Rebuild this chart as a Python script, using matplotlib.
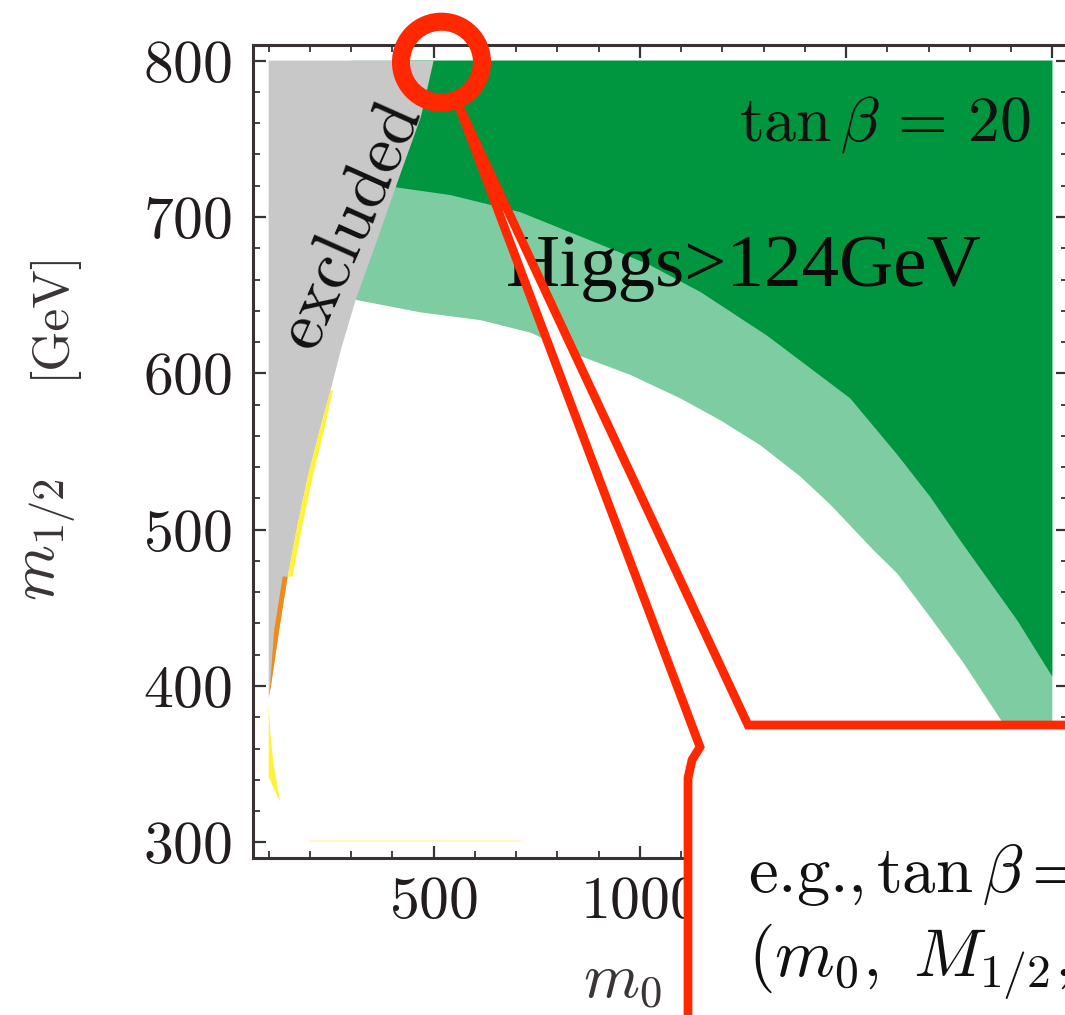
import numpy as np
import matplotlib.pyplot as plt
from matplotlib.patches import Polygon, Circle
from matplotlib.ticker import MultipleLocator

plt.rcParams['font.family'] = 'cmr10'
plt.rcParams['mathtext.fontset'] = 'cm'
plt.rcParams['axes.formatter.use_mathtext'] = True

# edge of the excluded (grey) region, m0 vs m1/2 in GeV
excl_m0 = [100, 100, 500, 469, 420, 408, 360, 311, 275, 250, 222, 195, 170, 146, 125, 105, 100]
excl_m12 = [392, 800, 800, 764, 728, 719, 683, 647, 615, 589, 562, 534, 503, 470, 435, 399, 392]

# upper edge of the light band (dark green above it)
dark_m0 = [408, 541, 711, 936, 1026, 1147, 1309, 1510, 1624, 1704, 1777, 1915, 2000]
dark_m12 = [719, 714, 703, 679, 669, 652, 624, 584, 548, 521, 493, 442, 406]

# lower edge of the light band
light_m0 = [311, 468, 614, 735, 856, 977, 1098, 1195, 1292, 1389, 1462, 1566, 1624,
            1704, 1784, 1881, 2000]
light_m12 = [647, 639, 634, 626, 611, 599, 584, 570, 554, 534, 516, 487, 472,
             444, 415, 376, 322]

# thin strips along the excluded edge
yellow_m0 = [250, 222, 195, 170, 146, 158, 182, 207, 233, 256]
yellow_m12 = [589, 562, 534, 503, 470, 470, 503, 534, 562, 589]
orange_m0 = [146, 125, 105, 100, 103, 113, 134, 158]
orange_m12 = [470, 435, 399, 394, 399, 435, 470, 470]
tail_m0 = [100, 104, 112, 128, 120, 100]
tail_m12 = [388, 370, 350, 326, 330, 342]
faint_m0 = [200, 710]
faint_m12 = [301, 301]

green_dark = '#00963f'
green_light = '#7ecca2'
grey = '#c8c8c8'
frame_col = '#3a3232'
red = '#ff2800'

fig = plt.figure(figsize=(10.65, 10.15), dpi=100)
W, H = 1065, 1015
ax = fig.add_axes([253 / W, 1 - 858 / H, (1068 - 253) / W, (858 - 45) / H])
ax.set_xlim(62, 2038)
ax.set_ylim(290, 810)

# light band: everything above its lower edge
lb = list(zip(light_m0, light_m12)) + [(2000, 800), (300, 800)]
ax.add_patch(Polygon(lb, closed=True, fc=green_light, ec='none', zorder=1))
db = list(zip(dark_m0, dark_m12)) + [(2000, 800), (400, 800)]
ax.add_patch(Polygon(db, closed=True, fc=green_dark, ec='none', zorder=2))
ax.add_patch(Polygon(list(zip(excl_m0, excl_m12)), closed=True, fc=grey, ec='none', zorder=3))
ax.add_patch(Polygon(list(zip(yellow_m0, yellow_m12)), closed=True, fc='#fff23a', ec='none', zorder=4))
ax.add_patch(Polygon(list(zip(orange_m0, orange_m12)), closed=True, fc='#f08a18', ec='none', zorder=4))
ax.add_patch(Polygon(list(zip(tail_m0, tail_m12)), closed=True, fc='#fff23a', ec='none', zorder=4))
ax.plot(faint_m0, faint_m12, color='#fff8c0', lw=1.5, zorder=4)

ax.text(1947, 749, r'$\tan\beta\,=\,20$', fontsize=46, ha='right', va='baseline',
        color='#111111', zorder=6)
ax.text(674, 656, 'Higgs>124GeV', family='Liberation Serif', fontsize=54,
        ha='left', va='baseline', color='#0a0a0a', zorder=6)
ax.text(298, 695, 'excluded', fontsize=50, rotation=66, rotation_mode='anchor',
        ha='center', va='center', color='#111111', zorder=6)

ax.xaxis.set_major_locator(MultipleLocator(500))
ax.xaxis.set_minor_locator(MultipleLocator(100))
ax.yaxis.set_major_locator(MultipleLocator(100))
ax.yaxis.set_minor_locator(MultipleLocator(20))
ax.tick_params(which='both', direction='in', top=True, right=True, color=frame_col,
               labelcolor='#221c1c', labelsize=43)
ax.tick_params(which='major', length=9, width=1.6)
ax.tick_params(which='minor', length=5, width=1.3)
ax.tick_params(axis='y', pad=15)
ax.tick_params(axis='x', pad=13)
for sp in ax.spines.values():
    sp.set_color(frame_col)
    sp.set_linewidth(2.2)

fig.text(49 / W, 1 - 540 / H, r'$m_{1/2}$', fontsize=46, rotation=90,
         ha='center', va='center', color='#3a3434')
fig.text(50 / W, 1 - 313 / H, '[GeV]', fontsize=37, rotation=90,
         ha='center', va='center', color='#3a3434')
fig.text(583 / W, 1 - 998 / H, r'$m_0$', fontsize=46,
         ha='left', va='baseline', color='#3a3434')

# callout: ring on the corner of the excluded edge, wedge and box below
fig.canvas.draw()
cx, cy = ax.transData.transform((519, 799))
dpi = fig.dpi


def px(x, y):
    return (x / dpi, (H - y) / dpi)


ring_x, ring_y = cx / dpi, cy / dpi
box = [px(458, 104), px(748, 725), px(1120, 725), px(1120, 1100), px(688, 1100),
       px(688, 778), px(692, 760), px(700, 747)]
fig.add_artist(Polygon(box, closed=True, fc='white', ec=red, lw=6.3, joinstyle='miter',
                       transform=fig.dpi_scale_trans, zorder=10))
fig.add_artist(Circle((ring_x, ring_y), 40.5 / dpi, fill=False, ec=red, lw=13,
                      transform=fig.dpi_scale_trans, zorder=11))

fig.text(748 / W, 1 - 892 / H, r'e.g.,$\,\tan\beta=$', fontsize=48,
         ha='left', va='baseline', color='#111111', zorder=12)
fig.text(748 / W, 1 - 976 / H, r'$(m_0,\ M_{1/2},$', fontsize=49,
         ha='left', va='baseline', color='#111111', zorder=12)

fig.savefig('out.png', dpi=100)
